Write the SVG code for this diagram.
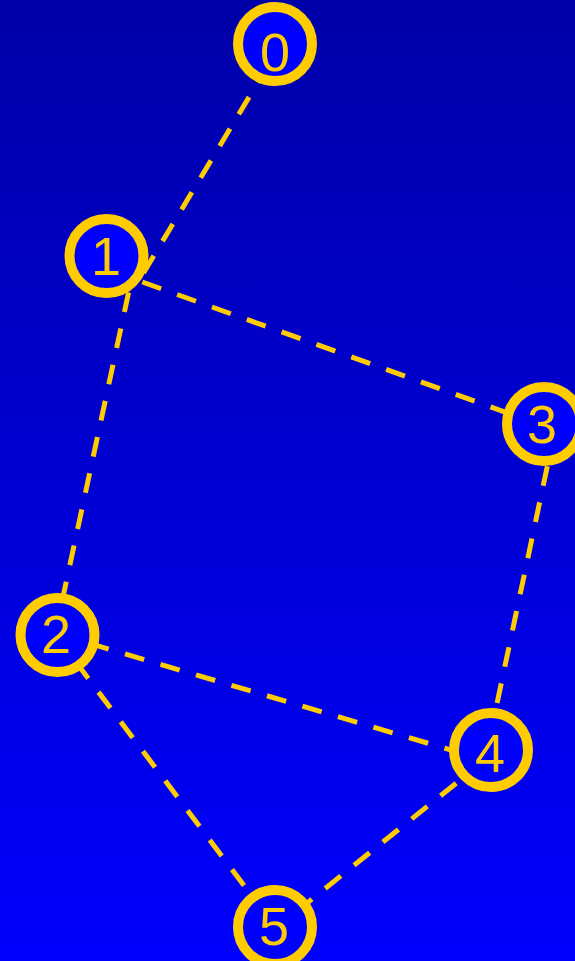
<svg xmlns="http://www.w3.org/2000/svg" width="575" height="961" viewBox="0 0 575 961">
<defs>
<linearGradient id="bg" x1="0" y1="0" x2="0" y2="1">
<stop offset="0" stop-color="#0000a8"/>
<stop offset="1" stop-color="#0000ff"/>
</linearGradient>
<style>
.edge{stroke:#ffcc00;stroke-width:5;stroke-dasharray:20 17;fill:none}
.node circle{fill:#0000ff;stroke:#ffcc00;stroke-width:10}
.node text{fill:#ffcc00;font-family:"Liberation Sans",Arial,Helvetica,sans-serif;font-size:54px;text-anchor:middle}
</style>
</defs>
<rect x="0" y="0" width="575" height="961" fill="url(#bg)"/>
<g id="edges">
<line class="edge" x1="268.1" y1="65.4" x2="138" y2="282"/>
<line class="edge" x1="142.3" y1="282" x2="555" y2="430"/>
<line class="edge" x1="136.4" y1="256.2" x2="55" y2="634"/>
<line class="edge" x1="555" y1="430" x2="485" y2="760"/>
<line class="edge" x1="54" y1="633" x2="485" y2="760"/>
<line class="edge" x1="54" y1="633" x2="276" y2="928"/>
<line class="edge" x1="485" y1="760" x2="276" y2="928"/>
</g>
<g id="node0" class="node"><circle cx="275" cy="44" r="37"/><text x="275" y="71">0</text></g>
<g id="node1" class="node"><circle cx="106.5" cy="256" r="37"/><text x="106" y="275">1</text></g>
<g id="node2" class="node"><circle cx="57.5" cy="635" r="37"/><text x="56" y="653">2</text></g>
<g id="node3" class="node"><circle cx="544" cy="424" r="37"/><text x="542" y="443">3</text></g>
<g id="node4" class="node"><circle cx="491" cy="750" r="37"/><text x="490" y="772">4</text></g>
<g id="node5" class="node"><circle cx="275" cy="927" r="37"/><text x="274" y="945">5</text></g>
</svg>
